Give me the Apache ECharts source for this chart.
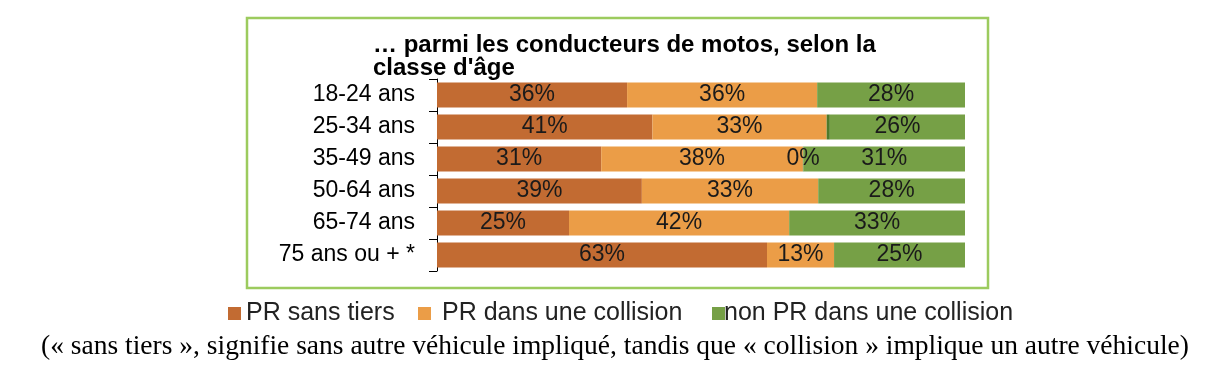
<!DOCTYPE html>
<html>
<head>
<meta charset="utf-8">
<script src="https://cdn.jsdelivr.net/npm/echarts@6/dist/echarts.min.js"></script>
<style>
html,body{margin:0;padding:0;background:#fff;}
#c{width:1206px;height:372px;}
</style>
</head>
<body>
<div id="c"></div>
<script>
const categories = ['18-24 ans', '25-34 ans', '35-49 ans', '50-64 ans', '65-74 ans', '75 ans ou + *'];
const prSansTiers = [36, 40.8, 31.1, 38.8, 25, 62.5];
const prCollision = [36, 33, 38.2, 33.4, 41.7, 12.7];
const autre = [0, 0.6, 0.1, 0, 0, 0];
const autreLabelShown = [false, false, true, false, false, false];
const nonPrCollision = [28, 25.6, 30.6, 27.8, 33.3, 24.8];
const seriesNames = ['PR sans tiers', 'PR dans une collision', 'non PR dans une collision'];
const titleText = '… parmi les conducteurs de motos, selon la\nclasse d\'âge';
const captionText = '(« sans tiers », signifie sans autre véhicule impliqué, tandis que « collision » implique un autre véhicule)';

const colors = ['#c26b32', '#eb9d47', '#76a046'];
const sans = 'Liberation Sans, Arial, sans-serif';

const labelCfg = {
  show: true,
  position: 'inside',
  fontFamily: sans,
  fontSize: 23,
  color: '#1a1a1a',
  formatter: p => Math.round(p.value) + '%'
};

const chart = echarts.init(document.getElementById('c'), null, {renderer: 'canvas'});

function legendAt(name, left, textPad) {
  return {
    data: [name],
    left: left,
    top: 296,
    itemWidth: 13,
    itemHeight: 13,
    icon: 'rect',
    selectedMode: false,
    textStyle: {fontFamily: sans, fontSize: 25, color: '#222', padding: [0, 0, 0, textPad]}
  };
}

chart.setOption({
  animation: false,
  title: {
    text: titleText,
    left: 373,
    top: 34,
    padding: 0,
    textStyle: {fontFamily: sans, fontSize: 24, fontWeight: 'bold', color: '#000', lineHeight: 23}
  },
  legend: [
    legendAt(seriesNames[0], 223, 0),
    legendAt(seriesNames[1], 413, 6),
    legendAt(seriesNames[2], 707, -6)
  ],
  grid: {left: 437, top: 79, width: 528, height: 192, containLabel: false},
  xAxis: {
    type: 'value',
    min: 0,
    max: 100,
    show: false
  },
  yAxis: {
    type: 'category',
    data: categories,
    inverse: true,
    axisLine: {show: true, lineStyle: {color: '#000', width: 1}},
    axisTick: {show: true, length: 8, lineStyle: {color: '#000'}},
    axisLabel: {fontFamily: sans, fontSize: 23, color: '#000', margin: 22}
  },
  series: [
    {name: seriesNames[0], type: 'bar', stack: 't', barWidth: 25, data: prSansTiers, itemStyle: {color: colors[0]}, label: labelCfg},
    {name: seriesNames[1], type: 'bar', stack: 't', barWidth: 25, data: prCollision, itemStyle: {color: colors[1]}, label: labelCfg},
    {name: 'autre', type: 'bar', stack: 't', barWidth: 25,
      data: autre.map((v, i) => ({value: v, label: {show: autreLabelShown[i]}})),
      itemStyle: {color: '#4e7a2b'}, label: labelCfg},
    {name: seriesNames[2], type: 'bar', stack: 't', barWidth: 25, data: nonPrCollision, itemStyle: {color: colors[2]}, label: labelCfg}
  ],
  graphic: [
    {type: 'rect', shape: {x: 247, y: 18, width: 741, height: 270}, style: {fill: null, stroke: '#9ccb5e', lineWidth: 2.5}, z: 100, silent: true},
    {type: 'text', x: 615, y: 347, style: {text: captionText, fontFamily: 'Liberation Serif, Times New Roman, serif', fontSize: 27.5, fill: '#000', textAlign: 'center', textVerticalAlign: 'middle'}}
  ]
});
</script>
</body>
</html>
